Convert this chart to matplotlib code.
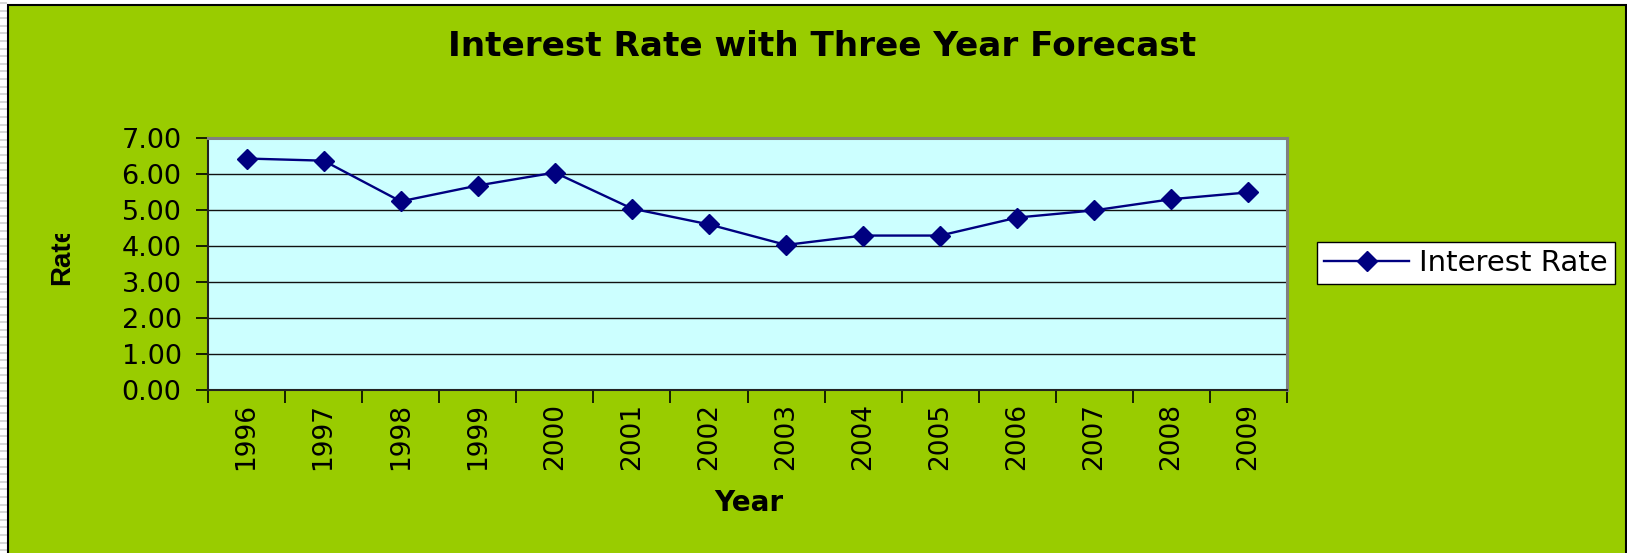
import matplotlib
matplotlib.use("Agg")
import matplotlib.pyplot as plt
from matplotlib.patches import Rectangle
from matplotlib.transforms import Bbox
import numpy as np

years = ["1996", "1997", "1998", "1999", "2000", "2001", "2002",
         "2003", "2004", "2005", "2006", "2007", "2008", "2009"]
rates = [6.43, 6.37, 5.24, 5.68, 6.04, 5.04, 4.60,
         4.03, 4.29, 4.29, 4.79, 4.99, 5.30, 5.49]
yticks = [0, 1, 2, 3, 4, 5, 6, 7]

W, H = 1627, 553
DPI = 100
FONT = "DejaVu Sans"
GREEN = "#99CC00"
PLOTBG = "#CCFFFF"
NAVY = "#000080"

fig = plt.figure(figsize=(W / DPI, H / DPI), dpi=DPI, facecolor="white")

# left striped margin
for yy in np.arange(2, H, 7.6):
    fig.patches.append(Rectangle((0, 1 - (yy + 2) / H), 7 / W, 2 / H,
                                 transform=fig.transFigure, facecolor="#d8d8d8",
                                 edgecolor="none", zorder=-10))
# green chart area with border
fig.patches.append(Rectangle((7.5 / W, -0.01), (1626 - 7.5) / W, (H - 4.5) / H + 0.01,
                             transform=fig.transFigure, facecolor=GREEN,
                             edgecolor="black", linewidth=1.5, zorder=-5))

left, right, top, bottom = 208, 1287, 138, 390
ax = fig.add_axes([left / W, 1 - bottom / H, (right - left) / W, (bottom - top) / H])
ax.set_zorder(1)
ax.set_facecolor(PLOTBG)

x = np.arange(len(years))
ax.plot(x, rates, color=NAVY, linewidth=1.7, marker="D", markersize=10,
        markerfacecolor=NAVY, markeredgecolor=NAVY, zorder=3, label="Interest Rate")

ax.set_xlim(-0.5, len(years) - 0.5)
ax.set_ylim(0, 7)
ax.set_yticks(yticks)
ax.set_yticklabels([f"{v:.2f}" for v in yticks], fontfamily=FONT, fontsize=19.5)
for v in yticks[1:-1]:
    ax.axhline(v, color="#111111", linewidth=1.0, zorder=1)

ax.set_xticks(np.arange(-0.5, len(years), 1.0))
ax.set_xticklabels([])
ax.set_xticks(x, minor=True)
ax.set_xticklabels(years, minor=True, rotation=90, fontfamily=FONT, fontsize=19,
                   va="top", ha="center")
ax.tick_params(axis="x", which="minor", length=0, pad=9)
ax.tick_params(axis="x", which="major", length=9, width=1.2, color="black")
ax.tick_params(axis="y", length=9, width=1.2, color="black", pad=10)

for s in ["left", "bottom"]:
    ax.spines[s].set_color("#222222")
    ax.spines[s].set_linewidth(1.5)
for s in ["top", "right"]:
    ax.spines[s].set_color("#808080")
    ax.spines[s].set_linewidth(2.2)

# titles
fig.text(822 / W, 1 - 47 / H, "Interest Rate with Three Year Forecast",
         fontfamily=FONT, fontweight="bold", fontsize=24.7, ha="center", va="center")
fig.text(749 / W, 1 - 503 / H, "Year", fontfamily=FONT, fontweight="bold",
         fontsize=20, ha="center", va="center")
yl = fig.text(62 / W, 1 - 255 / H, "Rate", fontfamily="Liberation Sans",
              fontweight="bold", fontsize=20, ha="center", va="center", rotation=90)
yl.set_clip_box(Bbox.from_extents(0, 0, W, H - 234))
yl.set_clip_on(True)

# legend
leg = ax.legend(loc="center left", bbox_to_anchor=(1317 / W, 1 - 263 / H),
                bbox_transform=fig.transFigure, prop={"family": FONT, "size": 21},
                frameon=True, fancybox=False, edgecolor="black", facecolor="white",
                framealpha=1, borderpad=0.25, handlelength=2.9, handletextpad=0.35,
                borderaxespad=0)
leg.get_frame().set_linewidth(1.0)

fig.savefig("out.png", dpi=DPI, facecolor=fig.get_facecolor())
